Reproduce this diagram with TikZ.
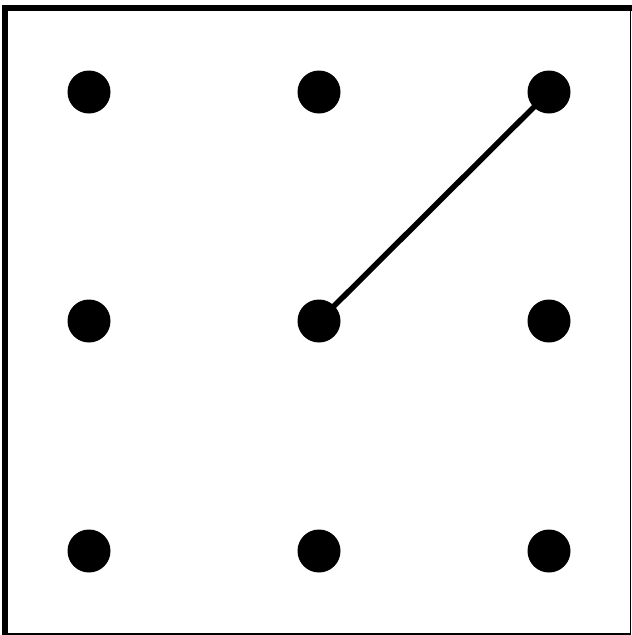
\documentclass[tikz,border=0pt]{standalone}
\begin{document}
\begin{tikzpicture}[x=1pt,y=-1pt,
  dot/.style={circle,fill=black,inner sep=0pt,minimum size=43pt},
  link/.style={line width=5.5pt,black}]
\useasboundingbox (0,0) rectangle (632,635);
% frame
\draw[line width=6pt] (4.5,635) -- (4.5,7.5) -- (632,7.5);
\draw[line width=1.8pt] (630.5,7.5) -- (630.5,634) -- (4.5,634);
% dots
\node[dot] (a1) at (89,92) {};
\node[dot] (a2) at (319,92) {};
\node[dot] (a3) at (549,92) {};
\node[dot] (b1) at (89,321) {};
\node[dot] (b2) at (319,321) {};
\node[dot] (b3) at (549,321) {};
\node[dot] (c1) at (89,551) {};
\node[dot] (c2) at (319,551) {};
\node[dot] (c3) at (549,551) {};
\draw[link] (b2.center) -- (a3.center);
\end{tikzpicture}
\end{document}
